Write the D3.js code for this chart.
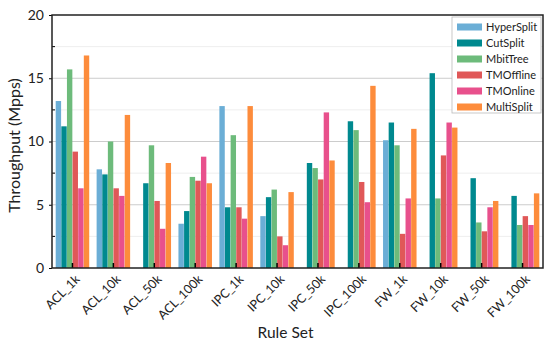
<!DOCTYPE html>
<html lang="en">
<head>
<meta charset="UTF-8">
<script src="https://d3js.org/d3.v7.min.js"></script>
<title>Throughput</title>
<style>
  body { margin: 0; background: #fff; }
  text { font-family: Lato, "Open Sans", sans-serif; }
</style>
</head>
<body>
<script>
var categories = ["ACL_1k", "ACL_10k", "ACL_50k", "ACL_100k", "IPC_1k", "IPC_10k",
                  "IPC_50k", "IPC_100k", "FW_1k", "FW_10k", "FW_50k", "FW_100k"];
var seriesNames = ["HyperSplit", "CutSplit", "MbitTree", "TMOffline", "TMOnline", "MultiSplit"];
var hyperSplit = [13.2, 7.8, 0, 3.5, 12.8, 4.1, 0, 0, 10.1, 0, 0, 0];
var cutSplit   = [11.2, 7.4, 6.7, 4.5, 4.8, 5.6, 8.3, 11.6, 11.5, 15.4, 7.1, 5.7];
var mbitTree   = [15.7, 10.0, 9.7, 7.2, 10.5, 6.2, 7.9, 10.9, 9.7, 5.5, 3.6, 3.4];
var tmOffline  = [9.2, 6.3, 5.3, 6.9, 4.8, 2.5, 7.0, 6.8, 2.7, 8.9, 2.9, 4.1];
var tmOnline   = [6.3, 5.7, 3.1, 8.8, 3.9, 1.8, 12.3, 5.2, 5.5, 11.5, 4.8, 3.4];
var multiSplit = [16.8, 12.1, 8.3, 6.7, 12.8, 6.0, 8.5, 14.4, 11.0, 11.1, 5.3, 5.9];
var yTicks = [0, 5, 10, 15, 20];
var yMinor = [2.5, 7.5, 12.5, 17.5];

var seriesValues = [hyperSplit, cutSplit, mbitTree, tmOffline, tmOnline, multiSplit];
var colors = ["#6baed6", "#00898f", "#6dbb7b", "#e05858", "#e8508c", "#fd8c3c"];

var width = 550, height = 345;
var margin = {top: 15, right: 7, bottom: 77, left: 52};
var innerW = width - margin.left - margin.right;
var innerH = height - margin.top - margin.bottom;

var svg = d3.select("body").append("svg")
  .attr("width", width)
  .attr("height", height);

var g = svg.append("g")
  .attr("transform", "translate(" + margin.left + "," + margin.top + ")");

var x0 = d3.scaleBand().domain(categories).range([0, innerW]).paddingInner(0.17).paddingOuter(0.085);
var x1 = d3.scaleBand().domain(seriesNames).range([0, x0.bandwidth()]).padding(0.04);
var y = d3.scaleLinear().domain([0, 20]).range([innerH, 0]);

// grid
g.selectAll("line.minor").data(yMinor).enter().append("line")
  .attr("class", "minor")
  .attr("x1", 0).attr("x2", innerW)
  .attr("y1", function (d) { return y(d); }).attr("y2", function (d) { return y(d); })
  .attr("stroke", "#eeeeee").attr("stroke-width", 1);
g.selectAll("line.major").data(yTicks.slice(1, -1)).enter().append("line")
  .attr("class", "major")
  .attr("x1", 0).attr("x2", innerW)
  .attr("y1", function (d) { return y(d); }).attr("y2", function (d) { return y(d); })
  .attr("stroke", "#cccccc").attr("stroke-width", 1);

// bars
var groups = g.selectAll("g.grp").data(categories).enter().append("g")
  .attr("class", "grp")
  .attr("transform", function (d) { return "translate(" + x0(d) + ",0)"; });

groups.selectAll("rect")
  .data(function (d, i) {
    return seriesNames.map(function (s, j) { return {s: s, v: seriesValues[j][i], c: colors[j]}; });
  })
  .enter().append("rect")
  .attr("x", function (d) { return x1(d.s); })
  .attr("width", x1.bandwidth())
  .attr("y", function (d) { return y(d.v); })
  .attr("height", function (d) { return innerH - y(d.v); })
  .attr("fill", function (d) { return d.c; });

// y axis
var yAxis = g.append("g")
  .call(d3.axisLeft(y).tickValues(yTicks).tickSize(3).tickPadding(5).tickFormat(d3.format("d")));
yAxis.select(".domain").remove();
yAxis.selectAll("text").attr("font-size", 14).attr("fill", "#222")
  .style("font-family", "Lato, sans-serif");
yAxis.selectAll("line").attr("stroke", "#000");

g.selectAll("line.ymin").data(yMinor).enter().append("line")
  .attr("class", "ymin")
  .attr("x1", 0).attr("x2", 3)
  .attr("y1", function (d) { return y(d); }).attr("y2", function (d) { return y(d); })
  .attr("stroke", "#000");

// x axis
var xAxis = g.append("g")
  .attr("transform", "translate(0," + innerH + ")")
  .call(d3.axisBottom(x0).tickSize(-5).tickPadding(9));
xAxis.select(".domain").remove();
xAxis.selectAll("line").attr("stroke", "#000").attr("stroke-width", 1.5);
xAxis.selectAll("text")
  .attr("font-size", 12.5).attr("fill", "#222")
  .style("font-family", "Lato, sans-serif")
  .attr("text-anchor", "end")
  .attr("dy", "0.35em")
  .attr("transform", "translate(5,9) rotate(-45)")
  .attr("y", 0).attr("x", 0);

// frame
g.append("rect")
  .attr("x", 0).attr("y", 0).attr("width", innerW).attr("height", innerH)
  .attr("fill", "none").attr("stroke", "#222").attr("stroke-width", 1.5);

// axis titles
svg.append("text")
  .attr("transform", "translate(" + 20 + "," + (margin.top + innerH / 2 + 4) + ") rotate(-90)")
  .attr("text-anchor", "middle")
  .attr("font-size", 16)
  .attr("fill", "#222")
  .text("Throughput (Mpps)");

svg.append("text")
  .attr("x", margin.left + innerW / 2 - 12)
  .attr("y", 338)
  .attr("text-anchor", "middle")
  .attr("font-size", 15.5)
  .attr("fill", "#222")
  .text("Rule Set");

// legend
var legend = svg.append("g").attr("transform", "translate(452,17)");
legend.append("rect")
  .attr("width", 89).attr("height", 96)
  .attr("fill", "#fff").attr("stroke", "#bbb").attr("stroke-width", 0.8);
var items = legend.selectAll("g.item").data(seriesNames).enter().append("g")
  .attr("class", "item")
  .attr("transform", function (d, i) { return "translate(5," + (10 + i * 16) + ")"; });
items.append("rect")
  .attr("x", 0).attr("y", -3.5).attr("width", 25).attr("height", 7)
  .attr("fill", function (d, i) { return colors[i]; });
items.append("text")
  .attr("x", 29).attr("y", 0).attr("dy", "0.35em")
  .attr("font-size", 11).attr("fill", "#222")
  .text(function (d) { return d; });
</script>
</body>
</html>
